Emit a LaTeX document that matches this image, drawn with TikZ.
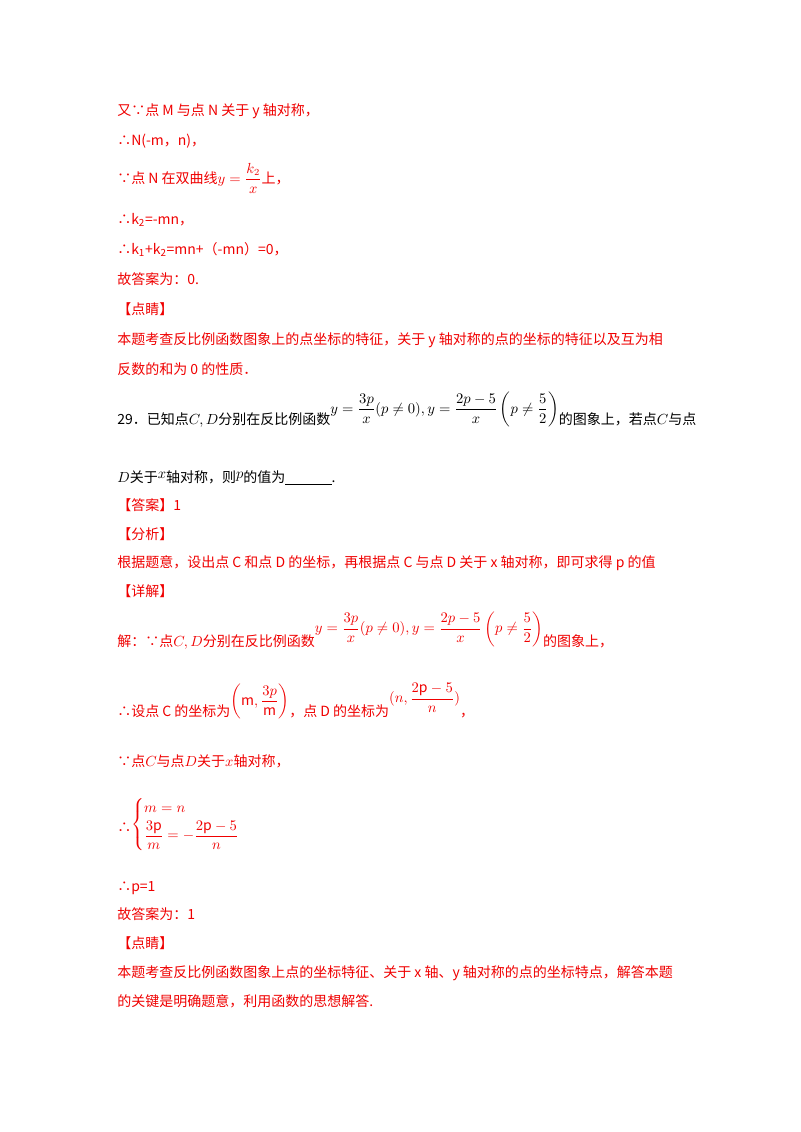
\documentclass[tikz,border=0pt]{standalone}
\usepackage{amsmath}
\usepackage{fontspec}
\setmainfont{Noto Sans CJK SC}
\definecolor{myred}{RGB}{240,0,0}
\begin{document}
\begin{tikzpicture}[x=0.75pt,y=-0.75pt,
  t/.style={anchor=base west,inner sep=0pt,font=\fontsize{10.5pt}{12pt}\selectfont,text=myred},
  b/.style={t,text=black}]
\useasboundingbox[fill=white] (0,0) rectangle (800,1132);
\node[t] (l1) at (117,115) {又∵点 M 与点 N 关于 y 轴对称，};
\node[t] (l2) at (117,145) {∴N(-m，n)，};
\node[t] (l3) at (117,183) {∵点 N 在双曲线$y=\dfrac{k_2}{x}$上，};
\node[t] (l4) at (117,224) {∴k\textsubscript{2}=-mn，};
\node[t] (l5) at (117,254) {∴k\textsubscript{1}+k\textsubscript{2}=mn+（-mn）=0，};
\node[t] (l6) at (117,284) {故答案为：0.};
\node[t] (l7) at (117,314) {【点睛】};
\node[t] (l8) at (117,344) {本题考查反比例函数图象上的点坐标的特征，关于 y 轴对称的点的坐标的特征以及互为相};
\node[t] (l9) at (117,374) {反数的和为 0 的性质．};
\node[b] (q1) at (117,424) {29．已知点$C,D$分别在反比例函数$\raisebox{8pt}{$y=\dfrac{3p}{x}(p\neq0),y=\dfrac{2p-5}{x}\left(p\neq\dfrac52\right)$}$的图象上，若点$C$与点};
\node[b] (q2) at (117,482) {$D$关于$\raisebox{3pt}{$x$}$轴对称，则$\raisebox{3pt}{$p$}$的值为\underline{\hspace{3.3em}}.};
\node[t] (a1) at (117,510) {【答案】1};
\node[t] (a2) at (117,539) {【分析】};
\node[t] (a3) at (117,567) {根据题意，设出点 C 和点 D 的坐标，再根据点 C 与点 D 关于 x 轴对称，即可求得 p 的值};
\node[t] (a4) at (117,596) {【详解】};
\node[t] (a5) at (117,646) {解：∵点$C,D$分别在反比例函数$\raisebox{10pt}{$y=\dfrac{3p}{x}(p\neq0),y=\dfrac{2p-5}{x}\left(p\neq\dfrac52\right)$}$的图象上，};
\node[t] (a6) at (117,716) {∴设点 C 的坐标为$\raisebox{8pt}{$\left(\mathrm{m},\dfrac{3p}{\mathrm{m}}\right)$}$，点 D 的坐标为$\raisebox{10pt}{$(n,\dfrac{2\mathrm{p}-5}{n})$}$，};
\node[t] (a7) at (117,766) {∵点$C$与点$D$关于$x$轴对称，};
\node[t] (a8) at (117,832) {∴$\raisebox{3pt}{$\begin{cases} m=n\\[2pt] \dfrac{3\mathrm{p}}{m}=-\dfrac{2\mathrm{p}-5}{n}\end{cases}$}$};
\node[t] (a9) at (117,891) {∴p=1};
\node[t] (a10) at (117,919) {故答案为：1};
\node[t] (a11) at (117,948) {【点睛】};
\node[t] (a12) at (117,977) {本题考查反比例函数图象上点的坐标特征、关于 x 轴、y 轴对称的点的坐标特点，解答本题};
\node[t] (a13) at (117,1006) {的关键是明确题意，利用函数的思想解答.};
\end{tikzpicture}
\end{document}
